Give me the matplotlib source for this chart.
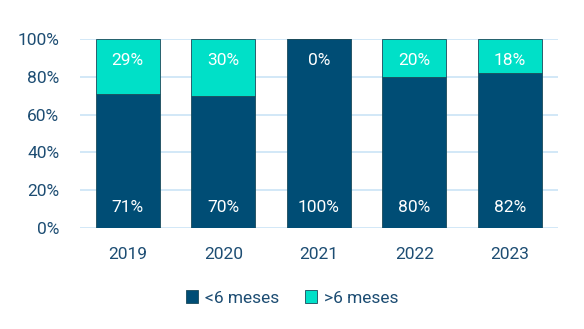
import matplotlib
matplotlib.use("Agg")
import matplotlib.pyplot as plt
import numpy as np

years = ["2019", "2020", "2021", "2022", "2023"]
under6 = [71, 70, 100, 80, 82]
over6 = [29, 30, 0, 20, 18]

dark = "#004d75"
light = "#00e0c8"
txt = "#1d4d73"

plt.rcParams['font.family'] = ['Roboto', 'DejaVu Sans']
fig = plt.figure(figsize=(5.84, 3.29), dpi=100)
ax = fig.add_axes([0.137, 0.307, 0.818, 0.574])
x = np.arange(len(years))
w = 0.67
ax.bar(x, under6, w, color=dark, edgecolor="#1a4a5a", linewidth=0.6, label="<6 meses", zorder=3)
ax.bar(x, over6, w, bottom=under6, color=light, edgecolor="#1a4a5a", linewidth=0.6, label=">6 meses", zorder=3)
for i in range(len(years)):
    ax.text(x[i], 10.6, f"{under6[i]}%", ha="center", va="center", color="white", fontsize=12.5, zorder=4)
    ax.text(x[i], 88.9, f"{over6[i]}%", ha="center", va="center", color="white", fontsize=12.5, zorder=4)
ax.set_xlim(-0.5, len(years) - 0.5)
ax.set_ylim(0, 100)
ax.set_yticks(range(0, 101, 20))
ax.set_yticklabels([f"{v}%" for v in range(0, 101, 20)])
ax.set_xticks(x)
ax.set_xticklabels(years)
ax.tick_params(axis="both", length=0, labelsize=12.5, labelcolor=txt)
ax.tick_params(axis="x", pad=14)
ax.tick_params(axis="y", pad=15)
ax.grid(axis="y", color="#cfe6f7", linewidth=1.3, zorder=0)
for s in ax.spines.values():
    s.set_visible(False)
leg = fig.legend(loc="center", bbox_to_anchor=(0.5, 0.094), ncol=2, frameon=False,
                 fontsize=12.5, handlelength=0.7, handleheight=0.7, columnspacing=1.5, handletextpad=0.4)
for t in leg.get_texts():
    t.set_color(txt)
fig.savefig("out.png", dpi=100)
